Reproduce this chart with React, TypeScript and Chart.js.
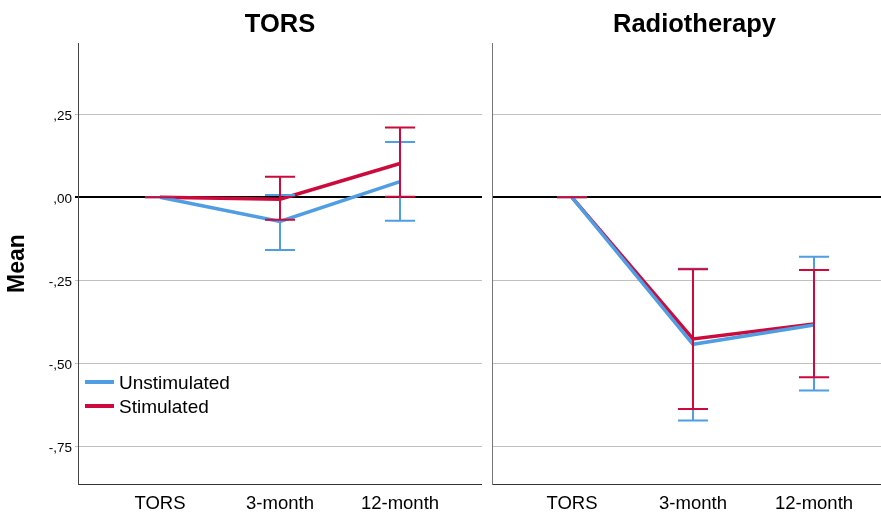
import React, { useEffect, useRef } from "react";
import { Chart, registerables } from "chart.js";

Chart.register(...registerables);

// ---- data ----
const categories = ["TORS", "3-month", "12-month"];
const seriesNames = ["Unstimulated", "Stimulated"];
const panelTitles = ["TORS", "Radiotherapy"];
const yTickValues = [-0.75, -0.5, -0.25, 0, 0.25];
const yTickLabels = ["-,75", "-,50", "-,25", ",00", ",25"];

const torsUnstimMean = [0, -0.073, 0.047];
const torsUnstimLow = [0, -0.159, -0.071];
const torsUnstimHigh = [0, 0.007, 0.167];
const torsStimMean = [0, -0.006, 0.102];
const torsStimLow = [0, -0.068, 0.002];
const torsStimHigh = [0, 0.062, 0.21];

const rtUnstimMean = [0, -0.443, -0.385];
const rtUnstimLow = [0, -0.673, -0.582];
const rtUnstimHigh = [0, -0.215, -0.179];
const rtStimMean = [0, -0.427, -0.382];
const rtStimLow = [0, -0.638, -0.542];
const rtStimHigh = [0, -0.217, -0.219];

// ---- styles ----
const BLUE = "#4F9DE3";
const RED = "#CC0A3C";
const FONT = "'Liberation Sans', Arial, sans-serif";
const Y_MIN = -0.864;
const Y_MAX = 0.465;

type Bars = { low: number[]; high: number[]; color: string }[];

function makeConfig(opts: {
  title: string;
  unstim: number[];
  stim: number[];
  bars: Bars;
  left: boolean;
  xMin: number;
  xMax: number;
}) {
  const { title, unstim, stim, bars, left, xMin, xMax } = opts;
  const toPts = (arr: number[]) => arr.map((y, i) => ({ x: i, y }));

  const overlay = {
    id: "overlay" + title,
    afterDatasetsDraw(chart: any) {
      const ctx = chart.ctx;
      const xs = chart.scales.x;
      const ys = chart.scales.y;
      ctx.save();
      for (const b of bars) {
        ctx.strokeStyle = b.color;
        ctx.lineWidth = 2;
        ctx.lineCap = "butt";
        for (let i = 0; i < b.low.length; i++) {
          const x = xs.getPixelForValue(i);
          const yl = ys.getPixelForValue(b.low[i]);
          const yh = ys.getPixelForValue(b.high[i]);
          ctx.beginPath();
          ctx.moveTo(x, yl);
          ctx.lineTo(x, yh);
          ctx.moveTo(x - 15, yl);
          ctx.lineTo(x + 15, yl);
          ctx.moveTo(x - 15, yh);
          ctx.lineTo(x + 15, yh);
          ctx.stroke();
        }
      }
      ctx.restore();
    },
    afterDraw(chart: any) {
      const ctx = chart.ctx;
      const area = chart.chartArea;
      ctx.save();
      ctx.fillStyle = "#000";
      ctx.font = `bold 25.5px ${FONT}`;
      ctx.textAlign = "center";
      ctx.textBaseline = "alphabetic";
      ctx.fillText(title, (area.left + area.right) / 2, 32);
      if (left) {
        const items = [
          { name: seriesNames[0], color: BLUE, y: 382 },
          { name: seriesNames[1], color: RED, y: 406 },
        ];
        ctx.font = `19px ${FONT}`;
        ctx.textAlign = "left";
        ctx.textBaseline = "middle";
        for (const it of items) {
          ctx.strokeStyle = it.color;
          ctx.lineWidth = 4;
          ctx.beginPath();
          ctx.moveTo(area.left + 7, it.y);
          ctx.lineTo(area.left + 36, it.y);
          ctx.stroke();
          ctx.fillStyle = "#000";
          ctx.fillText(it.name, area.left + 41, it.y + 2);
        }
      }
      ctx.restore();
    },
  };

  return {
    type: "line" as const,
    data: {
      datasets: [
        {
          label: seriesNames[0],
          data: toPts(unstim),
          borderColor: BLUE,
          borderWidth: 3.5,
          pointRadius: 0,
          fill: false,
          tension: 0,
        },
        {
          label: seriesNames[1],
          data: toPts(stim),
          borderColor: RED,
          borderWidth: 3.5,
          pointRadius: 0,
          fill: false,
          tension: 0,
        },
      ],
    },
    options: {
      responsive: false,
      animation: false,
      events: [],
      layout: { padding: { top: 43, left: 0, right: 0, bottom: 0 } },
      plugins: {
        legend: { display: false },
        tooltip: { enabled: false },
        title: { display: false },
      },
      scales: {
        x: {
          type: "linear",
          min: xMin,
          max: xMax,
          grid: { display: false, drawTicks: false },
          border: { display: true, color: "#333", width: 1 },
          afterBuildTicks: (scale: any) => {
            scale.ticks = categories.map((_, i) => ({ value: i }));
          },
          afterFit: (scale: any) => {
            scale.height = 31;
          },
          ticks: {
            padding: 9,
            maxRotation: 0,
            autoSkip: false,
            color: "#000",
            font: { family: FONT, size: 18.5 },
            callback: (v: any) => categories[Math.round(v)] ?? "",
          },
        },
        y: {
          type: "linear",
          min: Y_MIN,
          max: Y_MAX,
          afterBuildTicks: (scale: any) => {
            scale.ticks = yTickValues.map((v) => ({ value: v }));
          },
          afterFit: (scale: any) => {
            scale.width = left ? 78 : 10;
          },
          grid: {
            drawTicks: left,
            tickLength: 3,
            color: (c: any) => (c.tick && c.tick.value === 0 ? "#000" : "#C0C0C0"),
            lineWidth: (c: any) => (c.tick && c.tick.value === 0 ? 2 : 1),
          },
          border: { display: true, color: left ? "#444" : "#777", width: 1 },
          title: {
            display: left,
            text: "Mean",
            color: "#000",
            font: { family: FONT, size: 23, weight: "bold" },
            padding: { top: 4, bottom: 4 },
          },
          ticks: {
            display: left,
            padding: 3,
            labelOffset: 2,
            color: "#000",
            font: { family: FONT, size: 13.5 },
            callback: (_v: any, i: number) => yTickLabels[i],
          },
        },
      },
    },
    plugins: [overlay],
  };
}

function Panel(props: {
  width: number;
  height: number;
  left: number;
  config: any;
}) {
  const ref = useRef<HTMLCanvasElement | null>(null);
  useEffect(() => {
    if (!ref.current) return;
    const chart = new Chart(ref.current, props.config);
    return () => chart.destroy();
  }, []);
  return (
    <canvas
      ref={ref}
      width={props.width}
      height={props.height}
      style={{
        position: "absolute",
        left: props.left,
        top: 0,
        width: props.width,
        height: props.height,
        display: "block",
      }}
    />
  );
}

export default function App() {
  const leftCfg = makeConfig({
    title: panelTitles[0],
    unstim: torsUnstimMean,
    stim: torsStimMean,
    bars: [
      { low: torsUnstimLow, high: torsUnstimHigh, color: BLUE },
      { low: torsStimLow, high: torsStimHigh, color: RED },
    ],
    left: true,
    xMin: -0.6833,
    xMax: 2.6833,
  });
  const rightCfg = makeConfig({
    title: panelTitles[1],
    unstim: rtUnstimMean,
    stim: rtStimMean,
    bars: [
      { low: rtUnstimLow, high: rtUnstimHigh, color: BLUE },
      { low: rtStimLow, high: rtStimHigh, color: RED },
    ],
    left: false,
    xMin: -0.661,
    xMax: 2.686,
  });
  return (
    <div
      style={{
        position: "absolute",
        left: 0,
        top: 0,
        width: 881,
        height: 515,
        overflow: "hidden",
        background: "#fff",
      }}
    >
      <Panel width={482} height={515} left={0} config={leftCfg} />
      <Panel width={415} height={515} left={482} config={rightCfg} />
    </div>
  );
}
